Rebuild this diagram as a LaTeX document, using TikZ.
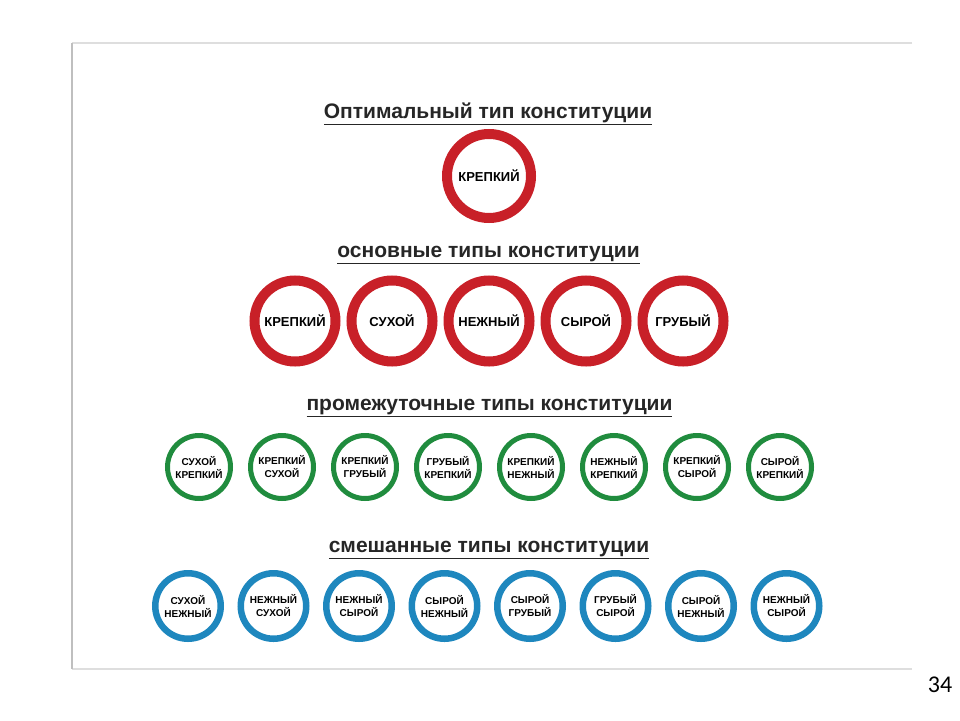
\documentclass[tikz,border=0pt]{standalone}
\usepackage{fontspec}
\setmainfont{Liberation Sans}
\newfontfamily\numfont{Carlito}
\definecolor{ringred}{RGB}{200,32,40}
\definecolor{ringgreen}{RGB}{32,140,62}
\definecolor{ringblue}{RGB}{30,135,190}

\begin{document}
\begin{tikzpicture}[x=1pt, y=-1pt,
  title/.style={font=\bfseries\fontsize{21}{25}\selectfont, text=black!85, anchor=base, inner sep=0pt},
  redring/.style={circle, draw=ringred, line width=10pt, minimum size=81pt, inner sep=0pt,
    font=\bfseries\fontsize{13}{15}\selectfont},
  greenring/.style={circle, draw=ringgreen, line width=5pt, minimum size=63pt, inner sep=0pt,
    align=center, font=\bfseries\fontsize{10}{13}\selectfont},
  blueblob/.style={circle, draw=ringblue, line width=6.5pt, minimum size=65.5pt, inner sep=0pt,
    align=center, font=\bfseries\fontsize{10}{13}\selectfont}]
\useasboundingbox (0,0) rectangle (960,720);
% slide frame
\draw[black!13, line width=1.2pt] (912,43) -- (72,43);
\draw[black!13, line width=1.2pt] (72,669) -- (912,669);
\draw[black!25, line width=1.2pt] (72,43) -- (72,669);

% Optimal type
\node[title] (optTitle) at (488,118) {\underline{Оптимальный тип конституции}};
\node[redring, minimum size=84pt] (opt) at (489,176) {КРЕПКИЙ};

% Basic types
\node[title] (baseTitle) at (488.5,257) {\underline{основные типы конституции}};
\foreach \txt [count=\i from 0] in {КРЕПКИЙ, СУХОЙ, НЕЖНЫЙ, СЫРОЙ, ГРУБЫЙ}
  \node[redring] (base\i) at (295+97*\i,321) {\txt};

% Intermediate types
\node[title] (midTitle) at (489.5,410) {\underline{промежуточные типы конституции}};
\foreach \txt [count=\i from 0] in {{СУХОЙ\\КРЕПКИЙ}, {КРЕПКИЙ\\СУХОЙ}, {КРЕПКИЙ\\ГРУБЫЙ},
    {ГРУБЫЙ\\КРЕПКИЙ}, {КРЕПКИЙ\\НЕЖНЫЙ}, {НЕЖНЫЙ\\КРЕПКИЙ}, {КРЕПКИЙ\\СЫРОЙ}, {СЫРОЙ\\КРЕПКИЙ}}
  \node[greenring] (mid\i) at (199+83*\i,467) {\txt};

% Mixed types
\node[title] (mixTitle) at (489,552) {\underline{смешанные типы конституции}};
\foreach \txt [count=\i from 0] in {{СУХОЙ\\НЕЖНЫЙ}, {НЕЖНЫЙ\\СУХОЙ}, {НЕЖНЫЙ\\СЫРОЙ},
    {СЫРОЙ\\НЕЖНЫЙ}, {СЫРОЙ\\ГРУБЫЙ}, {ГРУБЫЙ\\СЫРОЙ}, {СЫРОЙ\\НЕЖНЫЙ}, {НЕЖНЫЙ\\СЫРОЙ}}
  \node[blueblob] (mix\i) at (188+85.5*\i,606) {\txt};

% page number
\node[font=\numfont\fontsize{24}{28}\selectfont, anchor=base, inner sep=0pt] (pageNo) at (940,692) {34};
\end{tikzpicture}
\end{document}
